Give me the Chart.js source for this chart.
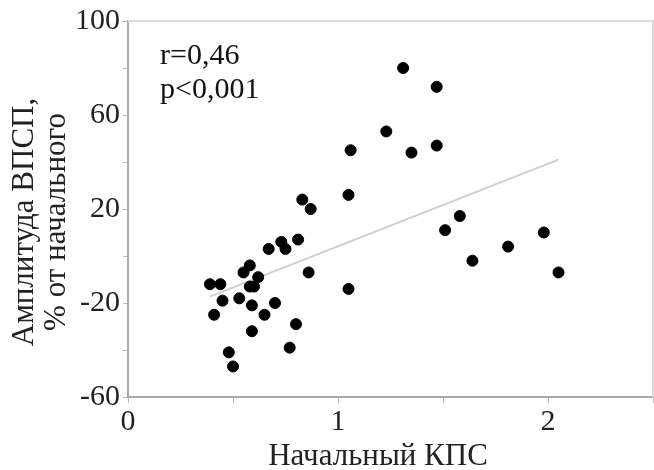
<!DOCTYPE html>
<html>
<head>
<meta charset="utf-8">
<script src="https://cdn.jsdelivr.net/npm/chart.js@4"></script>
<style>
  html, body { margin: 0; padding: 0; background: #fff; }
</style>
</head>
<body>
<canvas id="corrChart" width="654" height="470"></canvas>
<script>
// Начальный КПС (x) vs амплитуда ВПСП, % от начального (y)
const kpsValues = [0.39, 0.44, 0.41, 0.45, 0.48, 0.50, 0.53, 0.55, 0.58, 0.58, 0.60, 0.62,
  0.59, 0.59, 0.65, 0.67, 0.70, 0.73, 0.75, 0.77, 0.80, 0.81, 0.83, 0.87, 0.86,
  1.05, 1.06, 1.05, 1.23, 1.31, 1.47, 1.35, 1.47, 1.58, 1.51, 1.64, 1.81, 1.98, 2.05];
const amplitudeValues = [-12, -12, -25, -19, -41, -47, -18, -7, -4, -13, -13, -9,
  -21, -32, -25, 3, -20, 6, 3, -39, -29, 7, 24, 20, -7,
  26, 45, -14, 53, 80, 72, 44, 47, 17, 11, -2, 4, 10, -7];
// regression line end points
const trendX = [0.39, 2.05];
const trendY = [-17.3, 41.0];
const yTickLabels = [100, 60, 20, -20, -60];
const xTickLabels = [0, 1, 2];
const statText = ['r=0,46', 'p<0,001'];
const xTitle = 'Начальный КПС';
const yTitle = ['Амплитуда ВПСП,', '% от начального'];

const serif = '"Liberation Serif", "Times New Roman", serif';

const boxPlugin = {
  id: 'box',
  beforeDatasetsDraw(chart) {
    const { ctx, chartArea: a } = chart;
    ctx.save();
    ctx.strokeStyle = '#dcdcdc';
    ctx.lineWidth = 2;
    ctx.beginPath();
    ctx.moveTo(a.left, a.top);
    ctx.lineTo(a.right, a.top);
    ctx.lineTo(a.right, a.bottom);
    ctx.stroke();
    ctx.restore();
  },
  afterDraw(chart) {
    const { ctx, chartArea: a } = chart;
    ctx.save();
    ctx.fillStyle = '#111';
    ctx.font = '30px ' + serif;
    ctx.textBaseline = 'alphabetic';
    ctx.fillText(statText[0], a.left + 32, a.top + 43);
    ctx.fillText(statText[1], a.left + 32, a.top + 77);

    // axis titles
    ctx.fillStyle = '#222';
    ctx.font = '31px ' + serif;
    ctx.textAlign = 'center';
    ctx.fillText(xTitle, 378, 465);
    ctx.translate(0, 222);
    ctx.rotate(-Math.PI / 2);
    ctx.textBaseline = 'middle';
    ctx.fillText(yTitle[0], 0, 25);
    ctx.fillText(yTitle[1], 0, 57);
    ctx.restore();
  }
};

new Chart(document.getElementById('corrChart'), {
  type: 'scatter',
  data: {
    datasets: [{
      label: 'trend',
      type: 'line',
      data: trendX.map((x, i) => ({ x: x, y: trendY[i] })),
      borderColor: '#cfcfcf',
      borderWidth: 2,
      pointRadius: 0,
      order: 2
    }, {
      label: 'points',
      data: kpsValues.map((x, i) => ({ x: x, y: amplitudeValues[i] })),
      backgroundColor: '#000',
      borderColor: '#000',
      pointRadius: 5.5,
      order: 1
    }]
  },
  options: {
    responsive: false,
    animation: false,
    layout: { autoPadding: false, padding: { top: 20, right: 1, left: 0, bottom: 0 } },
    plugins: { legend: { display: false }, tooltip: { enabled: false } },
    scales: {
      x: {
        type: 'linear',
        min: 0,
        max: 2.5,
        afterFit: s => { s.height = 73; s.paddingRight = 0; },
        border: { color: '#aaa', width: 2 },
        grid: { drawOnChartArea: false, color: '#bbb', tickLength: 6 },
        ticks: {
          stepSize: 0.5,
          padding: 1,
          color: '#222',
          maxRotation: 0,
          font: { family: serif, size: 30 },
          callback: v => xTickLabels.includes(v) ? String(v) : ''
        }
      },
      y: {
        min: -60,
        max: 100,
        afterFit: s => { s.width = 128; },
        border: { color: '#aaa', width: 2 },
        grid: { drawOnChartArea: false, color: '#bbb', tickLength: 5 },
        ticks: {
          stepSize: 20,
          padding: 3,
          color: '#222',
          font: { family: serif, size: 30 },
          callback: v => yTickLabels.includes(v) ? String(v) : ''
        }
      }
    }
  },
  plugins: [boxPlugin]
});
</script>
</body>
</html>
